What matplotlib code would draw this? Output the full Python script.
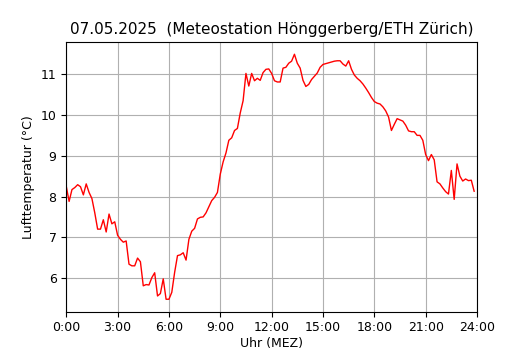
import numpy as np
import matplotlib
matplotlib.use("Agg")
import matplotlib.pyplot as plt

# 10-Minuten-Werte, 07.05.2025, 0:00 bis 23:50
temp = [
    8.25, 7.88, 8.17, 8.22, 8.29, 8.24, 8.04, 8.31, 8.10, 7.95,
    7.60, 7.20, 7.20, 7.43, 7.13, 7.57, 7.33, 7.38, 7.05, 6.95,
    6.88, 6.91, 6.34, 6.30, 6.30, 6.49, 6.40, 5.81, 5.84, 5.83,
    6.01, 6.13, 5.56, 5.62, 5.98, 5.48, 5.48, 5.65, 6.14, 6.55,
    6.57, 6.62, 6.44, 6.95, 7.15, 7.22, 7.45, 7.49, 7.50, 7.60,
    7.75, 7.90, 7.98, 8.10, 8.55, 8.85, 9.07, 9.38, 9.44, 9.62,
    9.67, 10.05, 10.35, 11.02, 10.71, 11.02, 10.84, 10.90, 10.85, 11.04,
    11.12, 11.13, 11.02, 10.84, 10.81, 10.81, 11.15, 11.17, 11.27, 11.32,
    11.49, 11.27, 11.15, 10.85, 10.70, 10.75, 10.87, 10.95, 11.03, 11.17,
    11.24, 11.26, 11.28, 11.30, 11.32, 11.33, 11.33, 11.25, 11.20, 11.33,
    11.12, 10.98, 10.90, 10.84, 10.76, 10.66, 10.55, 10.43, 10.33, 10.29,
    10.27, 10.20, 10.10, 9.95, 9.62, 9.77, 9.91, 9.88, 9.85, 9.75,
    9.61, 9.59, 9.59, 9.50, 9.50, 9.38, 9.03, 8.88, 9.03, 8.90,
    8.36, 8.31, 8.21, 8.12, 8.06, 8.64, 7.93, 8.80, 8.50, 8.38,
    8.43, 8.39, 8.40, 8.13,
]
hours = np.arange(len(temp)) / 6.0
tick_hours = list(range(0, 25, 3))
tick_labels = [f"{h}:00" for h in tick_hours]

fig, ax = plt.subplots(figsize=(5.3, 3.5), dpi=100)
ax.plot(hours, temp, color="red", linewidth=1)
ax.set_xlim(0, 24)
ax.set_xticks(tick_hours)
ax.set_xticklabels(tick_labels)
ax.grid(True)
ax.set_title("07.05.2025  (Meteostation Hönggerberg/ETH Zürich)", fontsize=11)
ax.set_xlabel("Uhr (MEZ)", fontsize=9, labelpad=2)
ax.set_ylabel("Lufttemperatur (°C)", fontsize=9)
ax.tick_params(labelsize=9)
fig.savefig("out.png")
